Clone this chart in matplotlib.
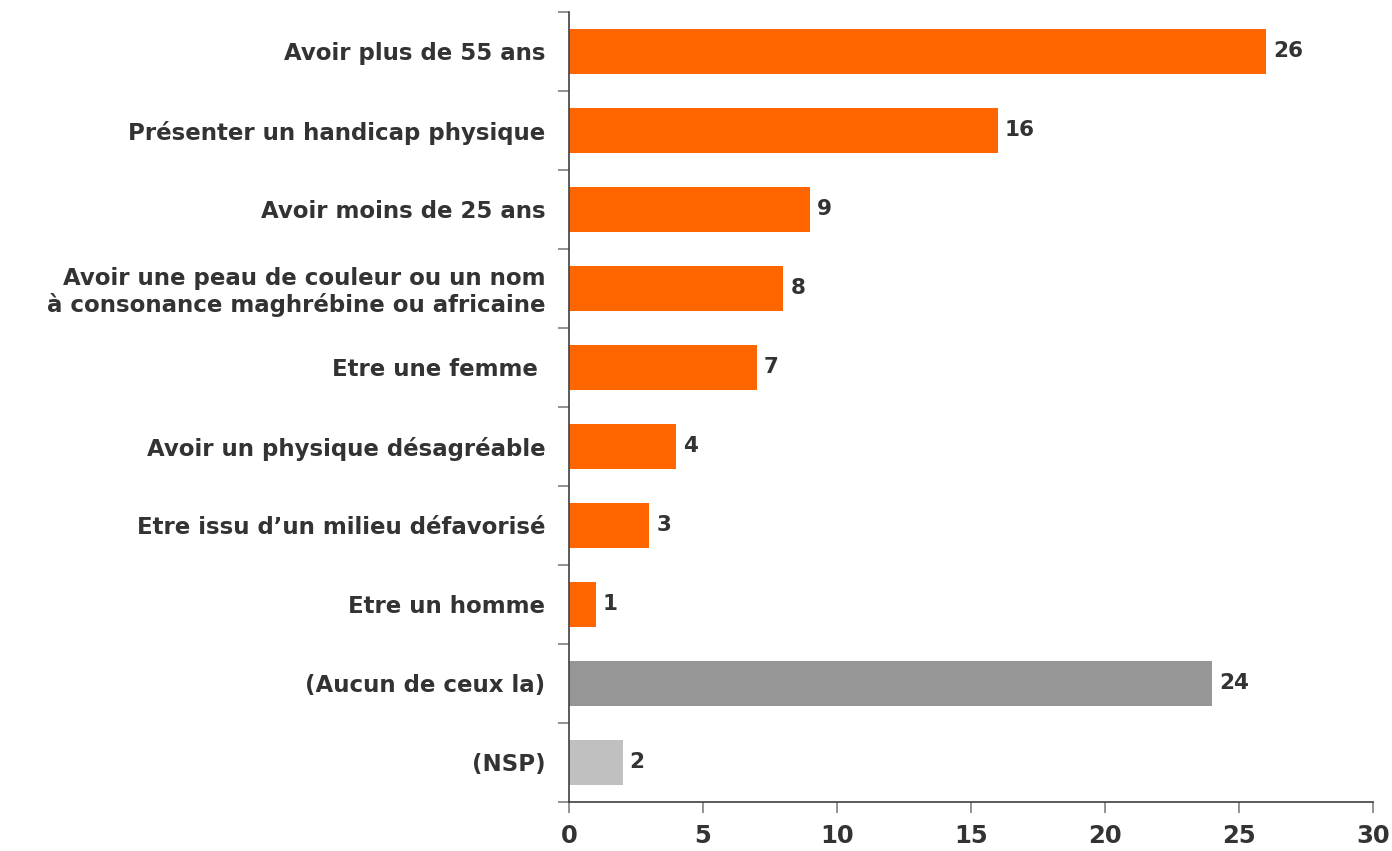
import matplotlib.pyplot as plt
import numpy as np

plt.rcParams['font.family'] = ['DejaVu Sans']

# categories from top to bottom
labels = [
    "Avoir plus de 55 ans",
    "Présenter un handicap physique",
    "Avoir moins de 25 ans",
    "Avoir une peau de couleur ou un nom\nà consonance maghrébine ou africaine",
    "Etre une femme ",
    "Avoir un physique désagréable",
    "Etre issu d\u2019un milieu défavorisé",
    "Etre un homme",
    "(Aucun de ceux la)",
    "(NSP)",
]
values = [26, 16, 9, 8, 7, 4, 3, 1, 24, 2]
colors = ["#FF6600"] * 8 + ["#969696", "#C0C0C0"]
xticks = [0, 5, 10, 15, 20, 25, 30]

TEXT = "#333333"

fig = plt.figure(figsize=(13.92, 8.51), dpi=100)
ax = fig.add_axes([0.4088, 0.0576, 0.5776, 0.9283])

y = np.arange(len(labels))
ax.barh(y, values, height=0.58, color=colors, zorder=2)

for yi, v in zip(y, values):
    ax.text(v + 0.26, yi, str(v), va="center", ha="left",
            fontsize=15.5, fontweight="bold", color=TEXT)

ax.set_xlim(0, 30)
ax.set_ylim(len(labels) - 0.5, -0.5)
ax.set_xticks(xticks)
ax.set_xticklabels([str(t) for t in xticks], fontsize=17.5, fontweight="bold", color=TEXT)
ax.set_yticks(y)
ax.set_yticklabels(labels, fontsize=16.5, fontweight="bold", color=TEXT, linespacing=1.15)
ax.set_yticks(np.arange(-0.5, len(labels), 1.0), minor=True)

ax.tick_params(axis="y", which="major", length=0, pad=17)
ax.tick_params(axis="y", which="minor", length=8, color="#808080", width=1.2)
ax.tick_params(axis="x", which="major", length=8, color="#808080", width=1.2, pad=8)

for side in ["top", "right"]:
    ax.spines[side].set_visible(False)
for side in ["left", "bottom"]:
    ax.spines[side].set_color("#404040")
    ax.spines[side].set_linewidth(1.2)

fig.savefig("out.png", dpi=100)
